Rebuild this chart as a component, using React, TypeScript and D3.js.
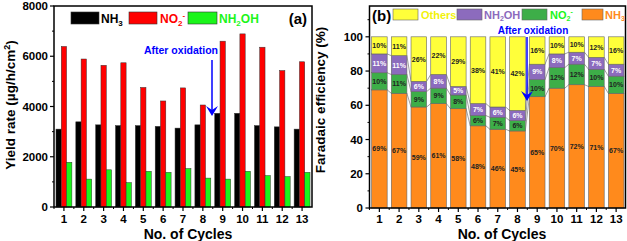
import React from "react";
import * as d3 from "d3";

const cycles = [1, 2, 3, 4, 5, 6, 7, 8, 9, 10, 11, 12, 13];
const nh3Yield = [3100, 3390, 3270, 3240, 3240, 3210, 3140, 3270, 3730, 3730, 3240, 3190, 3100];
const no2Yield = [6390, 5890, 5640, 5740, 4760, 4220, 4740, 4060, 6600, 6890, 6360, 5430, 5780];
const nh2ohYield = [1780, 1110, 1480, 970, 1420, 1380, 1530, 1150, 1110, 1420, 1250, 1210, 1380];

const feNH3 = [69, 67, 59, 61, 58, 48, 46, 45, 65, 70, 72, 71, 67];
const feNO2 = [10, 11, 9, 9, 8, 6, 7, 6, 10, 12, 12, 10, 10];
const feNH2OH = [11, 11, 6, 8, 5, 7, 6, 6, 9, 8, 7, 7, 7];
const feOthers = [10, 11, 26, 22, 29, 38, 41, 42, 16, 10, 10, 12, 16];

const yTicksL = [0, 2000, 4000, 6000, 8000];
const yMinorL = [1000, 3000, 5000, 7000];
const yTicksR = [0, 20, 40, 60, 80, 100];
const yMinorR = [10, 30, 50, 70, 90, 110];

const FONT = "'Liberation Sans', Arial, sans-serif";
const C = { black: "#000", red: "#FF0000", green: "#1BF51B", orange: "#FF8A1C", fgreen: "#3DAE48", purple: "#8C6BBD", yellow: "#FFFF3A", blue: "#0000FF" };

export default function App() {
  const xL = d3.scaleLinear().domain([0.5, 13.5]).range([54, 312]);
  const yL = d3.scaleLinear().domain([0, 8000]).range([207, 6]);
  const xR = d3.scaleLinear().domain([0.5, 13.5]).range([369.5, 626]);
  const yR = d3.scaleLinear().domain([0, 118]).range([208, 6]);

  const bw = 5.3;
  const seriesL = [
    { v: nh3Yield, c: C.black, off: -1 },
    { v: no2Yield, c: C.red, off: 0 },
    { v: nh2ohYield, c: C.green, off: 1 },
  ];

  const stackSeries = [
    { v: feNH3, c: C.orange, tc: "#222" },
    { v: feNO2, c: C.fgreen, tc: "#222" },
    { v: feNH2OH, c: C.purple, tc: "#fff" },
    { v: feOthers, c: C.yellow, tc: "#222" },
  ];
  // cumulative stack; last segment fills to 100 as in the figure
  const stacks = cycles.map((_, i) => {
    let acc = 0;
    return stackSeries.map((s, k) => {
      const y0 = acc;
      const y1 = k === stackSeries.length - 1 ? 100 : acc + s.v[i];
      acc = y1;
      return { y0, y1, label: s.v[i], c: s.c, tc: s.tc };
    });
  });
  const rbw = 15.6;

  const tickLabel = { fontFamily: FONT, fontWeight: 700, fontSize: 11.5, fill: "#000" } as const;

  return (
    <svg width={627} height={241} style={{ position: "absolute", left: 0, top: 0, background: "#fff" }}>
      {/* ---------- Chart (a) ---------- */}
      <g>
        {cycles.map((c, i) =>
          seriesL.map((s, k) => {
            const x = xL(c) + s.off * bw - bw / 2;
            return (
              <rect key={`${i}-${k}`} x={x} y={yL(s.v[i])} width={bw} height={yL(0) - yL(s.v[i])}
                fill={s.c} stroke="#333" strokeWidth={0.5} />
            );
          })
        )}
        <rect x={54} y={6} width={258} height={201} fill="none" stroke="#000" strokeWidth={1.5} />
        {yTicksL.map((t) => (
          <g key={t}>
            <line x1={50} x2={54} y1={yL(t)} y2={yL(t)} stroke="#000" strokeWidth={1.2} />
            <text x={48} y={yL(t) + 4} textAnchor="end" {...tickLabel}>{t}</text>
          </g>
        ))}
        {yMinorL.map((t) => (
          <line key={t} x1={52} x2={54} y1={yL(t)} y2={yL(t)} stroke="#000" strokeWidth={1} />
        ))}
        {cycles.map((c) => (
          <g key={c}>
            <line x1={xL(c)} x2={xL(c)} y1={207} y2={211} stroke="#000" strokeWidth={1.2} />
            <line x1={xL(c) - 9.9} x2={xL(c) - 9.9} y1={207} y2={209} stroke="#000" strokeWidth={1} />
            <text x={xL(c)} y={222.5} textAnchor="middle" {...tickLabel}>{c}</text>
          </g>
        ))}
        <text x={188} y={239} textAnchor="middle" fontFamily={FONT} fontWeight={700} fontSize={14}>No. of Cycles</text>
        <text transform="translate(15,105) rotate(-90)" textAnchor="middle" fontFamily={FONT} fontWeight={700} fontSize={13.5}>
          Yield rate (µg/h/cm<tspan dy={-5} fontSize={9}>2</tspan><tspan dy={5}>)</tspan>
        </text>
        {/* legend */}
        <rect x={71} y={12} width={28} height={12} fill={C.black} stroke="#333" strokeWidth={0.6} />
        <text x={101} y={22.5} fontFamily={FONT} fontWeight={700} fontSize={12} fill="#000">
          NH<tspan fontSize={8} dy={3}>3</tspan>
        </text>
        <rect x={129} y={12} width={28} height={12} fill={C.red} stroke="#333" strokeWidth={0.6} />
        <text x={160} y={22.5} fontFamily={FONT} fontWeight={700} fontSize={12} fill={C.red}>
          NO<tspan fontSize={8} dy={3}>2</tspan><tspan fontSize={8} dy={-8}>-</tspan>
        </text>
        <rect x={188} y={12} width={29} height={12} fill={C.green} stroke="#333" strokeWidth={0.6} />
        <text x={219} y={22.5} fontFamily={FONT} fontWeight={700} fontSize={12} fill={C.green}>
          NH<tspan fontSize={8} dy={3}>2</tspan><tspan dy={-3}>OH</tspan>
        </text>
        <text x={307} y={24} textAnchor="end" fontFamily={FONT} fontWeight={700} fontSize={15}>(a)</text>
        <text x={181} y={54} textAnchor="middle" fontFamily={FONT} fontWeight={700} fontSize={10.5} fill={C.blue}>After oxidation</text>
        <line x1={212} x2={212} y1={60} y2={110} stroke={C.blue} strokeWidth={1.5} />
        <path d="M206,106 L212,116 L218,106 L212,110 Z" fill={C.blue} />
      </g>

      {/* ---------- Chart (b) ---------- */}
      <g>
        {/* connecting lines */}
        {cycles.slice(0, -1).map((c, i) =>
          [0, 1, 2].map((k) => (
            <line key={`l${i}-${k}`} x1={xR(c) + rbw / 2} x2={xR(cycles[i + 1]) - rbw / 2}
              y1={yR(stacks[i][k].y1)} y2={yR(stacks[i + 1][k].y1)} stroke="#777" strokeWidth={0.7} />
          ))
        )}
        {cycles.map((c, i) =>
          stacks[i].map((s, k) => (
            <rect key={`${i}-${k}`} x={xR(c) - rbw / 2} y={yR(s.y1)} width={rbw} height={yR(s.y0) - yR(s.y1)}
              fill={s.c} stroke="#666" strokeWidth={0.6} />
          ))
        )}
        {cycles.map((c, i) =>
          stacks[i].map((s, k) => (
            <text key={`t${i}-${k}`} x={xR(c)} y={yR((s.y0 + s.y1) / 2) + 2.5} textAnchor="middle"
              fontFamily={FONT} fontWeight={700} fontSize={7} fill={s.tc}>{s.label}%</text>
          ))
        )}
        <rect x={369.5} y={6} width={256} height={202} fill="none" stroke="#000" strokeWidth={1.5} />
        {yTicksR.map((t) => (
          <g key={t}>
            <line x1={365.5} x2={369.5} y1={yR(t)} y2={yR(t)} stroke="#000" strokeWidth={1.2} />
            <text x={363} y={yR(t) + 4} textAnchor="end" {...tickLabel}>{t}</text>
          </g>
        ))}
        {yMinorR.map((t) => (
          <line key={t} x1={367.5} x2={369.5} y1={yR(t)} y2={yR(t)} stroke="#000" strokeWidth={1} />
        ))}
        {cycles.map((c) => (
          <g key={c}>
            <line x1={xR(c)} x2={xR(c)} y1={208} y2={212} stroke="#000" strokeWidth={1.2} />
            <line x1={xR(c) - 9.9} x2={xR(c) - 9.9} y1={208} y2={210} stroke="#000" strokeWidth={1} />
            <text x={xR(c)} y={223} textAnchor="middle" {...tickLabel}>{c}</text>
          </g>
        ))}
        <text x={502} y={239} textAnchor="middle" fontFamily={FONT} fontWeight={700} fontSize={14}>No. of Cycles</text>
        <text transform="translate(325,100) rotate(-90)" textAnchor="middle" fontFamily={FONT} fontWeight={700} fontSize={13.5}>
          Faradaic efficiency (%)
        </text>
        {/* legend */}
        <text x={372} y={21} fontFamily={FONT} fontWeight={700} fontSize={15}>(b)</text>
        <rect x={393} y={9} width={25} height={11} fill={C.yellow} stroke="#666" strokeWidth={0.6} />
        <text x={421} y={19} fontFamily={FONT} fontWeight={700} fontSize={11} fill="#F2F20A">Others</text>
        <rect x={457} y={9} width={25} height={11} fill={C.purple} stroke="#666" strokeWidth={0.6} />
        <text x={484} y={19} fontFamily={FONT} fontWeight={700} fontSize={11} fill={C.purple}>
          NH<tspan fontSize={7} dy={2}>2</tspan><tspan dy={-2}>OH</tspan>
        </text>
        <rect x={522} y={9} width={25} height={11} fill={C.fgreen} stroke="#666" strokeWidth={0.6} />
        <text x={550} y={19} fontFamily={FONT} fontWeight={700} fontSize={11} fill={C.green}>
          NO<tspan fontSize={7} dy={2}>2</tspan><tspan fontSize={7} dy={-7}>-</tspan>
        </text>
        <rect x={582} y={9} width={21} height={11} fill={C.orange} stroke="#666" strokeWidth={0.6} />
        <text x={605} y={19} fontFamily={FONT} fontWeight={700} fontSize={11} fill={C.orange}>
          NH<tspan fontSize={7} dy={2}>3</tspan>
        </text>
        <text x={533} y={33.5} textAnchor="middle" fontFamily={FONT} fontWeight={700} fontSize={10} fill={C.blue}>After oxidation</text>
        <line x1={527} x2={527} y1={37} y2={95} stroke={C.blue} strokeWidth={1.5} />
        <path d="M521,91 L527,101 L533,91 L527,95 Z" fill={C.blue} />
      </g>
    </svg>
  );
}
